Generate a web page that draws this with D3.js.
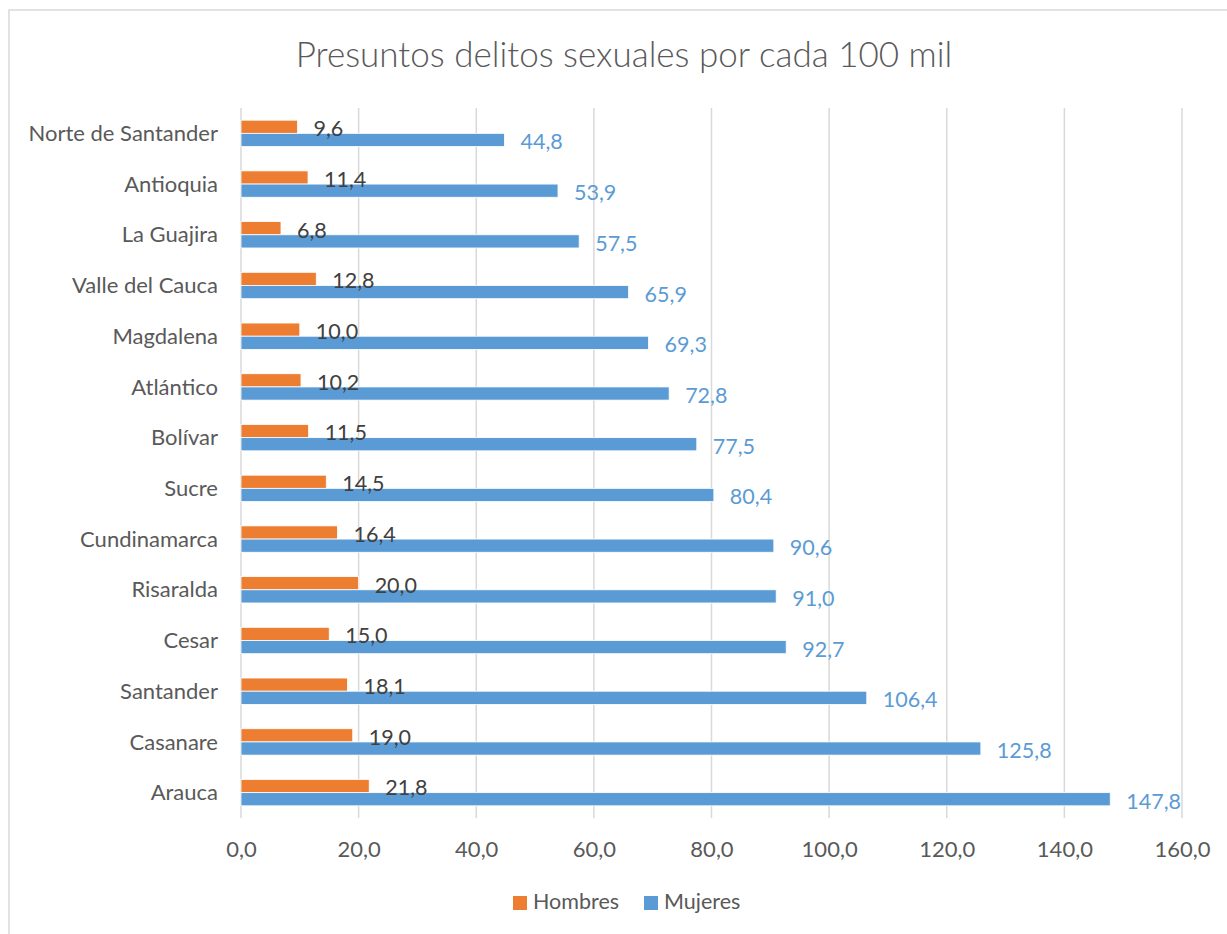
<!DOCTYPE html>
<html lang="es">
<head>
<meta charset="UTF-8">
<script src="https://cdn.jsdelivr.net/npm/d3@7/dist/d3.min.js"></script>
<title>Presuntos delitos sexuales</title>
<style>
  body { margin: 0; background: #fff; }
  text { font-family: Lato, "Open Sans", sans-serif; }
</style>
</head>
<body>
<div id="chart"></div>
<script>
// datos (de arriba hacia abajo)
var departamentos = ["Norte de Santander", "Antioquia", "La Guajira", "Valle del Cauca", "Magdalena",
  "Atlántico", "Bolívar", "Sucre", "Cundinamarca", "Risaralda", "Cesar", "Santander", "Casanare", "Arauca"];
var hombres = [9.6, 11.4, 6.8, 12.8, 10.0, 10.2, 11.5, 14.5, 16.4, 20.0, 15.0, 18.1, 19.0, 21.8];
var mujeres = [44.8, 53.9, 57.5, 65.9, 69.3, 72.8, 77.5, 80.4, 90.6, 91.0, 92.7, 106.4, 125.8, 147.8];
var series = ["Hombres", "Mujeres"];
var ticks = [0, 20, 40, 60, 80, 100, 120, 140, 160];

var W = 1227, H = 934;
var colores = { Hombres: "#ED7D31", Mujeres: "#5B9BD5" };
var colorEtiq = { Hombres: "#404040", Mujeres: "#5B9BD5" };
var fuente = "Lato, 'Open Sans', sans-serif";

var svg = d3.select("#chart").append("svg")
  .attr("width", W).attr("height", H);

// marco del grafico
svg.append("rect")
  .attr("x", 9).attr("y", 10)
  .attr("width", W + 20).attr("height", H + 20)
  .attr("fill", "#fff")
  .attr("stroke", "#D9D9D9").attr("stroke-width", 1.5);

svg.append("text")
  .attr("x", 624).attr("y", 67)
  .attr("text-anchor", "middle")
  .attr("font-size", 35)
  .attr("font-weight", 300)
  .attr("fill", "#595959")
  .text("Presuntos delitos sexuales por cada 100 mil");

var x = d3.scaleLinear().domain([0, 160]).range([241, 1182]);
var y = d3.scaleBand().domain(departamentos).range([108, 818]).paddingInner(0.48).paddingOuter(0.24);
var ySub = d3.scaleBand().domain(series).range([0, y.bandwidth()]);

// lineas de cuadricula
svg.append("g").selectAll("line")
  .data(ticks)
  .enter().append("line")
  .attr("x1", d => x(d)).attr("x2", d => x(d))
  .attr("y1", 108).attr("y2", 818)
  .attr("stroke", "#D9D9D9").attr("stroke-width", 1.5);

// eje x
var xAxis = d3.axisBottom(x).tickValues(ticks).tickSize(0)
  .tickFormat(d => d3.format(".1f")(d).replace(".", ","));
var gx = svg.append("g").attr("transform", "translate(0,818)").call(xAxis);
gx.select(".domain").remove();
gx.selectAll("text")
  .attr("dy", null).attr("y", 33)
  .attr("dominant-baseline", "middle")
  .attr("font-size", 22).attr("fill", "#595959")
  .style("font-family", fuente);

// eje y
var yAxis = d3.axisLeft(y).tickSize(0).tickPadding(23);
var gy = svg.append("g").attr("transform", "translate(241,2)").call(yAxis);
gy.select(".domain").remove();
gy.selectAll("text")
  .attr("dy", null).attr("dominant-baseline", "middle")
  .attr("font-size", 22).attr("fill", "#595959")
  .style("font-family", fuente);

var filas = departamentos.map((d, i) => ({ depto: d, Hombres: hombres[i], Mujeres: mujeres[i] }));

var grupos = svg.append("g").selectAll("g")
  .data(filas)
  .enter().append("g")
  .attr("transform", d => "translate(0," + y(d.depto) + ")");

grupos.selectAll("rect")
  .data(d => series.map(s => ({ s: s, v: d[s] })))
  .enter().append("rect")
  .attr("x", x(0))
  .attr("y", d => ySub(d.s))
  .attr("width", d => x(d.v) - x(0))
  .attr("height", ySub.bandwidth())
  .attr("fill", d => colores[d.s])
  .attr("stroke", "#fff").attr("stroke-width", 0.8);

grupos.selectAll("text")
  .data(d => series.map(s => ({ s: s, v: d[s] })))
  .enter().append("text")
  .attr("x", d => x(d.v) + 16)
  .attr("y", d => ySub(d.s) + ySub.bandwidth() / 2 + (d.s == "Mujeres" ? 4 : 4))
  .attr("dominant-baseline", "middle")
  .attr("font-size", 21.5)
  .attr("fill", d => colorEtiq[d.s])
  .text(d => d3.format(".1f")(d.v).replace(".", ","));

// leyenda
var leyenda = svg.append("g").selectAll("g")
  .data(series)
  .enter().append("g")
  .attr("transform", (d, i) => "translate(" + (i == 0 ? 513 : 644) + ",896)");
leyenda.append("rect")
  .attr("width", 14).attr("height", 14)
  .attr("fill", d => colores[d]);
leyenda.append("text")
  .attr("x", 20).attr("y", 8)
  .attr("dominant-baseline", "middle")
  .attr("font-size", 21.5).attr("fill", "#595959")
  .text(d => d);
</script>
</body>
</html>
